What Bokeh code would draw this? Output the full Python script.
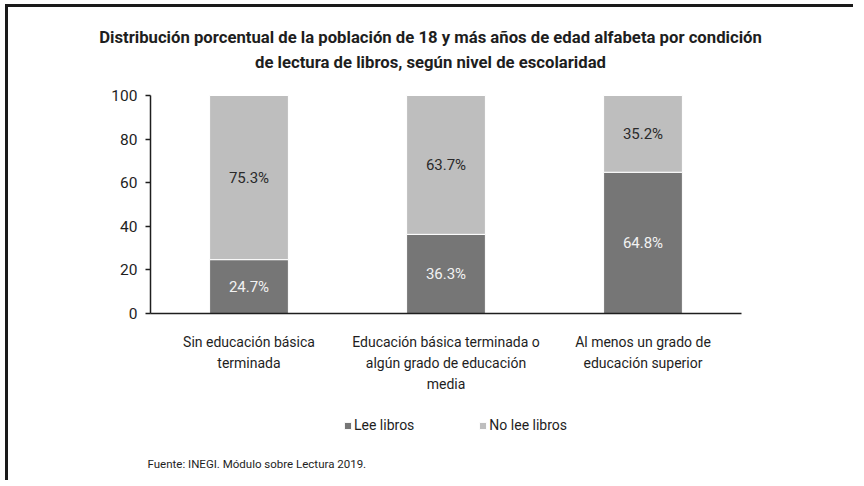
from bokeh.plotting import figure
from bokeh.models import (ColumnDataSource, Range1d, Label, LabelSet,
                          Legend, LegendItem, FixedTicker)
from bokeh.core.properties import value
from bokeh.embed import file_html
from bokeh.resources import INLINE

# ---- data ----
categories = ["Sin educación básica\nterminada",
              "Educación básica terminada o\nalgún grado de educación\nmedia",
              "Al menos un grado de\neducación superior"]
lee_libros = [24.7, 36.3, 64.8]
no_lee_libros = [75.3, 63.7, 35.2]
series_names = ["Lee libros", "No lee libros"]
y_ticks = [0, 20, 40, 60, 80, 100]
title_lines = ["Distribución porcentual de la población de 18 y más años de edad alfabeta por condición",
               "de lectura de libros, según nivel de escolaridad"]
source_text = "Fuente: INEGI. Módulo sobre Lectura 2019."

FONT = "Roboto"
DARK = "#767676"
LIGHT = "#bebebe"
TXT = "#1e1e1e"

W, H = 848, 476
# layout of the plotting area inside the canvas (pixels)
AX_LEFT, AX_RIGHT = 142, 733     # x pixel of category slots start / end
AX_TOP, AX_BOTTOM = 88, 306      # y pixel (from top) of value 100 / value 0
n = len(categories)
px_per_cat = (AX_RIGHT - AX_LEFT) / n
px_per_val = (AX_BOTTOM - AX_TOP) / 100.0

xpos = [i + 0.5 for i in range(n)]
src = ColumnDataSource(dict(
    x=xpos,
    lee=lee_libros,
    nolee=no_lee_libros,
    lee_mid=[v / 2 for v in lee_libros],
    nolee_mid=[a + b / 2 for a, b in zip(lee_libros, no_lee_libros)],
    lee_txt=[f"{v:.1f}%" for v in lee_libros],
    nolee_txt=[f"{v:.1f}%" for v in no_lee_libros],
))

p = figure(width=W, height=H, output_backend="svg", toolbar_location=None,
           x_range=Range1d(-AX_LEFT / px_per_cat, (W - AX_LEFT) / px_per_cat),
           y_range=Range1d(-(H - AX_BOTTOM) / px_per_val, 100 + AX_TOP / px_per_val),
           min_border=0)
p.title.visible = False
p.outline_line_color = None
p.xgrid.visible = False
p.ygrid.visible = False
p.background_fill_color = "white"
p.border_fill_color = "white"

rs = p.vbar_stack(["lee", "nolee"], x="x", width=0.4, color=[DARK, LIGHT],
                  line_color="white", line_width=1, source=src)

# axes, fixed inside the canvas
p.yaxis.fixed_location = 0
p.yaxis.bounds = (0, 100)
p.yaxis.ticker = FixedTicker(ticks=y_ticks)
p.yaxis.minor_tick_line_color = None
p.yaxis.major_tick_in = 0
p.yaxis.major_tick_out = 5
p.yaxis.axis_line_color = TXT
p.yaxis.axis_line_width = 1.5
p.yaxis.major_tick_line_color = TXT
p.yaxis.major_tick_line_width = 1.5
p.yaxis.major_label_text_font = FONT
p.yaxis.major_label_text_font_size = "15.5px"
p.yaxis.major_label_text_color = TXT
p.yaxis.major_label_standoff = 8

p.xaxis.fixed_location = 0
p.xaxis.bounds = (0, n)
p.xaxis.ticker = FixedTicker(ticks=xpos)
p.xaxis.major_label_overrides = {x: c for x, c in zip(xpos, categories)}
p.xaxis.axis_line_color = TXT
p.xaxis.axis_line_width = 1.5
p.xaxis.major_tick_line_color = None
p.xaxis.minor_tick_line_color = None
p.xaxis.major_label_text_font = FONT
p.xaxis.major_label_text_font_size = "14px"
p.xaxis.major_label_text_color = TXT
p.xaxis.major_label_text_line_height = 1.34
p.xaxis.major_label_standoff = 14

# bar value labels
p.add_layout(LabelSet(x="x", y="lee_mid", text="lee_txt", source=src,
                      text_align="center", text_baseline="middle",
                      text_font=value(FONT), text_font_size="15px", text_color="#f2f2f2"))
p.add_layout(LabelSet(x="x", y="nolee_mid", text="nolee_txt", source=src,
                      text_align="center", text_baseline="middle",
                      text_font=value(FONT), text_font_size="15px", text_color="#2a2a2a"))

# title lines (screen px from canvas bottom-left)
for line, yy in zip(title_lines, [H - 30, H - 55]):
    p.add_layout(Label(x=422, y=yy, x_units="screen", y_units="screen", text=line,
                       text_align="center", text_baseline="middle",
                       text_font=FONT, text_font_size="16.7px", text_font_style="bold",
                       text_color=TXT))

# source note
p.add_layout(Label(x=139, y=H - 456, x_units="screen", y_units="screen", text=source_text,
                   text_align="left", text_baseline="middle",
                   text_font=FONT, text_font_size="11.5px", text_color=TXT))

# legend
legend = Legend(items=[LegendItem(label=series_names[0], renderers=[rs[0]]),
                       LegendItem(label=series_names[1], renderers=[rs[1]])],
                orientation="horizontal", location=(335, H - 428),
                glyph_width=9, glyph_height=9, label_standoff=2, spacing=64,
                padding=0, margin=0, border_line_color=None,
                background_fill_alpha=0,
                label_text_font=FONT, label_text_font_size="14px",
                label_text_color=TXT, label_height=20)
p.add_layout(legend, "center")

p.styles = {"border-left": "3px solid #1a1a1a", "border-top": "3px solid #1a1a1a",
            "margin-left": "5px", "margin-top": "4px"}

open("out.html", "w").write(file_html(p, INLINE))
